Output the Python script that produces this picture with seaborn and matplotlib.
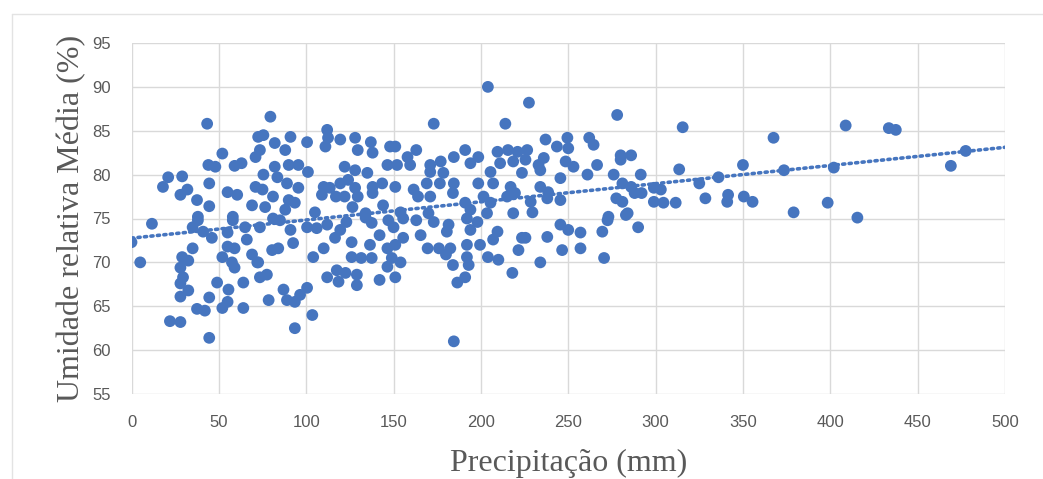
import numpy as np
import pandas as pd
import seaborn as sns
import matplotlib.pyplot as plt

# valores
precip = [0, 5, 11.7, 18, 21, 29, 43.3, 52, 44, 48, 59, 63, 71, 72.5, 44.5, 32, 28, 37.5, 44.5, 55,
          60.5, 69, 38, 58, 71,
          35, 38, 41, 46, 35, 29, 32.5, 28, 29.5, 28, 32.5, 28, 22, 28, 37.5, 42, 44.5, 44.5, 49, 52,
          55, 55.5, 64, 64, 52, 55, 57.5, 59, 59, 55, 58, 65, 66, 69, 72, 73.5,
          79.5, 75.5, 73.5, 82, 91, 88, 100.5, 82, 90, 95.5, 101, 75.5, 83.5, 89, 95.5, 75, 81, 90,
          76.5, 88, 93.5, 105, 112, 112.5, 111, 119.5, 128, 137, 129.5, 138, 148, 122, 128, 135,
          146.5, 110, 113.5, 119.5, 124, 128, 138, 143.5, 109, 117, 122, 129.5, 138, 126.5, 134, 144,
          73.5, 81, 85, 91, 92.5, 80.5, 84, 72.5, 77.5, 78.5, 87, 89, 93.5, 96.5, 100.5, 103.5, 93.5,
          100.5, 106, 112, 104, 110, 116.5, 119.5, 123, 126, 126, 131.5, 137.5, 136.5, 142, 137.5,
          134, 147, 146.5, 146.5, 142, 112, 117.5, 118.5, 122.5, 129, 129,
          173, 204, 227.5, 214, 151, 158, 163, 152, 159.5, 171, 177, 184.5, 191, 198.5, 194, 209.5,
          215.5, 221, 211, 218.5, 225.5, 171, 178.5, 151, 161.5, 169, 176.5, 184.5, 198.5, 205.5,
          207, 217, 223.5, 164, 171, 184, 191, 201.5, 205.5, 215, 219.5, 154, 170, 194, 203.5, 218.5,
          155.5, 163, 173, 181.5, 192, 198, 150, 155.5, 151, 165.5, 180.5, 194, 169.5, 176, 182.5,
          180, 192, 199.5, 207, 209.5, 223.5, 221.5, 192, 184, 193, 204, 210, 218, 154, 151, 149,
          191, 186.5, 184.5,
          278, 237, 243.5, 249.5, 250, 226.5, 262, 264.5, 236, 233, 234, 248.5, 253, 266.5, 280,
          286, 280, 261, 276, 291.5, 234, 238.5, 245.5, 238, 245.5, 228.5, 229.5, 281, 286, 288,
          292, 299, 277.5, 281, 299, 284, 273,
          245.5, 250, 257, 272.5, 269.5, 283, 290, 225.5, 238, 246.5, 257, 234, 270.5,
          315.5, 367.5, 313.5, 350, 373.5, 336, 325, 303, 304.5, 311.5, 328.5, 341.5, 341, 350.5,
          355.5, 379,
          408.8, 433.5, 437.5, 477.5, 469, 402, 398.5, 415.5]

umidade = [72.3, 70, 74.4, 78.6, 79.7, 79.8, 85.8, 82.4, 81.1, 80.9, 81, 81.3, 82, 84.3, 79, 78.3,
           77.7, 77.1, 76.4, 78, 77.7, 76.5, 75.2, 75.2, 78.6,
           74, 74.8, 73.5, 72.8, 71.6, 70.6, 70.2, 69.4, 68.3, 67.6, 66.8, 66.1, 63.3, 63.2, 64.7,
           64.5, 66, 61.4, 67.7, 64.8, 65.5, 66.9, 67.7, 64.8, 70.6, 71.8, 70, 69.4, 71.6, 73.4,
           74.8, 74, 72.6, 70.9, 70, 68.3,
           86.6, 84.5, 82.8, 83.6, 84.3, 82.8, 83.7, 80.9, 81.1, 81.1, 80.3, 80, 79.7, 79, 78.5,
           78.3, 77.5, 77.1, 76.3, 76, 76.8, 75.7, 85.1, 84.2, 83.2, 84, 84.2, 83.7, 82.8, 82.5,
           83.2, 80.9, 80.5, 80.2, 81.1, 78.6, 78.5, 79, 79.4, 78.5, 78.6, 79, 77.7, 77.5, 77.5,
           77.5, 77.9, 76.3, 75.6, 76.5,
           74, 75, 74.8, 73.7, 72.2, 71.4, 71.6, 70, 68.6, 65.7, 66.9, 65.7, 65.5, 66.3, 67.1, 64,
           62.5, 74, 73.9, 74.3, 70.6, 71.6, 72.8, 73.7, 74.6, 72.3, 70.6, 70.5, 70.5, 72, 73.1,
           74.5, 75.1, 74.8, 71.6, 69.5, 68, 68.3, 69.1, 67.8, 68.8, 68.6, 67.4,
           85.8, 90, 88.2, 85.8, 83.2, 82, 82.8, 81.1, 81.1, 81.1, 81.5, 82, 82.8, 82, 81.3, 82.6,
           82.8, 82.6, 81.3, 81.5, 81.7, 80.3, 80.2, 78.6, 78.3, 79, 79, 79, 79, 80.3, 79, 78.6,
           80.2, 77.5, 77.5, 77.9, 76.8, 77.5, 76.8, 77.5, 77.9, 75.7, 75.6, 76, 75.6, 75.6,
           75, 74.8, 74.6, 74.3, 75, 74.6, 74, 72.8, 72, 73.1, 73.5, 73.7, 71.6, 71.6, 71.6, 70.9,
           72, 72, 72.6, 73.5, 72.8, 71.4, 70.6, 69.7, 69.7, 70.6, 70.3, 68.8, 70, 68.3, 70.5,
           68.3, 67.7, 61,
           86.8, 84, 83.2, 84.2, 83, 82.8, 84.2, 83.4, 81.9, 81.1, 80.5, 81.5, 80.9, 81.1, 82.2,
           82.2, 81.7, 80, 80, 80, 78.6, 78, 79.6, 77.3, 77.1, 76.9, 75.7, 79, 78.6, 77.9, 77.9,
           78.5, 77.3, 76.9, 76.9, 75.6, 75.2,
           74.3, 73.7, 73.4, 74.8, 73.5, 75.4, 74, 72.8, 72.9, 71.4, 71.6, 70, 70.5,
           85.4, 84.2, 80.6, 81.1, 80.5, 79.7, 79, 78.3, 76.8, 76.8, 77.3, 77.7, 76.9, 77.5, 76.9,
           75.7,
           85.6, 85.3, 85.1, 82.7, 81, 80.8, 76.8, 75.1]

df = pd.DataFrame({'precip': precip, 'umidade': umidade})

sns.set_style("white")
plt.rcParams['font.family'] = ['Liberation Sans', 'DejaVu Sans']

blue = '#4675bf'
grey = '#595959'

fig = plt.figure(figsize=(10.43, 4.79), dpi=100)
ax = fig.add_axes([131.5 / 1043, 1 - 394 / 479, 873.5 / 1043, 351 / 479])
ax.set_xlim(0, 500)
ax.set_ylim(55, 95)

sns.scatterplot(x='precip', y='umidade', data=df, ax=ax, color=blue, s=72,
                edgecolor='none', zorder=3)
sns.regplot(x='precip', y='umidade', data=df, ax=ax, scatter=False, ci=None,
            truncate=False, line_kws={'color': blue, 'lw': 2.6, 'linestyle': (0, (0.6, 1.2)),
                                      'dash_capstyle': 'round', 'zorder': 4})

ax.set_xlim(0, 500)
ax.set_ylim(55, 95)
ax.set_xticks(range(0, 501, 50))
ax.set_yticks(range(55, 96, 5))
ax.grid(True, color='#d9d9d9', lw=1)
ax.set_axisbelow(True)
for s in ax.spines.values():
    s.set_visible(False)
ax.tick_params(length=0, pad=15, labelsize=12, labelcolor=grey)

ax.set_xlabel('Precipitação (mm)', family='Liberation Serif', fontsize=23, color=grey,
              labelpad=14)
ax.set_ylabel('Umidade relativa Média (%)', family='Liberation Serif', fontsize=23,
              color=grey, labelpad=4)

# moldura clara do gráfico
fig.add_artist(plt.Line2D([12 / 1043, 1], [1 - 14 / 479] * 2, color='#e3e3e3', lw=1))
fig.add_artist(plt.Line2D([12 / 1043] * 2, [0, 1 - 14 / 479], color='#e3e3e3', lw=1))

fig.savefig('out.png', dpi=100)
